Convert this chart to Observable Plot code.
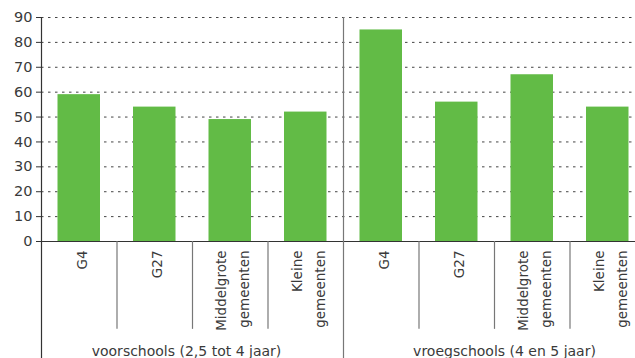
<!DOCTYPE html>
<html>
<head>
<meta charset="utf-8">
<script src="https://cdn.jsdelivr.net/npm/d3@7"></script>
<script src="https://cdn.jsdelivr.net/npm/@observablehq/plot@0.6"></script>
<style>
  html, body { margin: 0; padding: 0; background: #fff; overflow: hidden; }
  #chart svg { display: block; overflow: hidden; }
</style>
</head>
<body>
<div id="chart"></div>
<script>
// ---- data ----
const groups = ["voorschools (2,5 tot 4 jaar)", "vroegschools (4 en 5 jaar)"];
const categories = ["G4", "G27", "Middelgrote\ngemeenten", "Kleine\ngemeenten"];
const voorschools = [59, 54, 49, 52];
const vroegschools = [85, 56, 67, 54];
const yTicks = [0, 10, 20, 30, 40, 50, 60, 70, 80, 90];

// table built from arrays
const data = [];
[voorschools, vroegschools].forEach((vals, g) => {
  vals.forEach((v, c) => data.push({group: g, cat: categories[c], i: g * 4 + c, value: v}));
});
const groupData = groups.map((name, g) => ({name, g, center: g * 4 + 2}));
const innerDividers = data.filter(d => d.i % 4 !== 0).map(d => d.i);

const font = "DejaVu Sans, sans-serif";
const ink = "#3a3a3a";

const chart = Plot.plot({
  width: 635,
  height: 358,
  marginLeft: 41,
  marginRight: 0,
  marginTop: 17,
  marginBottom: 117,
  style: {fontFamily: font, fontSize: "13.5px", color: ink, background: "#fff"},
  x: {type: "linear", domain: [0, 8], range: [41, 645], axis: null},
  y: {domain: [0, 90], axis: null},
  marks: [
    Plot.gridY(yTicks.filter(t => t > 0), {stroke: "#444", strokeOpacity: 1, strokeDasharray: "2.5,4.5", strokeWidth: 1}),
    Plot.rectY(data, {x1: "i", x2: d => d.i + 1, y: "value", insetLeft: 16.5, insetRight: 16.5, fill: "#62bb46"}),
    Plot.axisY(yTicks, {tickSize: 5, tickPadding: 4, stroke: "#333", fill: ink, fontSize: 14.5, label: null}),
    Plot.ruleY([0], {stroke: "#333", strokeWidth: 1.2}),
    Plot.ruleX([0], {y1: 90, y2: -48, stroke: "#333", strokeWidth: 1.2}),
    Plot.ruleX([4], {y1: 90, y2: -48, stroke: "#777", strokeWidth: 1.2}),
    Plot.ruleX(innerDividers, {y1: 0, y2: -35.3, stroke: "#777", strokeWidth: 1.2}),
    Plot.text(data, {
      x: d => d.i + 0.5, y: 0, text: "cat", rotate: -90, textAnchor: "end",
      dy: 9, lineHeight: 1.7, fill: ink, fontSize: 13.5
    }),
    Plot.text(groupData.filter(d => d.g === 0), {
      x: "center", y: 0, text: "name", dy: 110, dx: -6,
      textAnchor: "middle", fill: ink, fontSize: 14
    }),
    Plot.text(groupData.filter(d => d.g === 1), {
      x: "center", y: 0, text: "name", dy: 110, dx: 10,
      textAnchor: "middle", fill: ink, fontSize: 14
    })
  ]
});
document.getElementById("chart").appendChild(chart);
</script>
</body>
</html>
